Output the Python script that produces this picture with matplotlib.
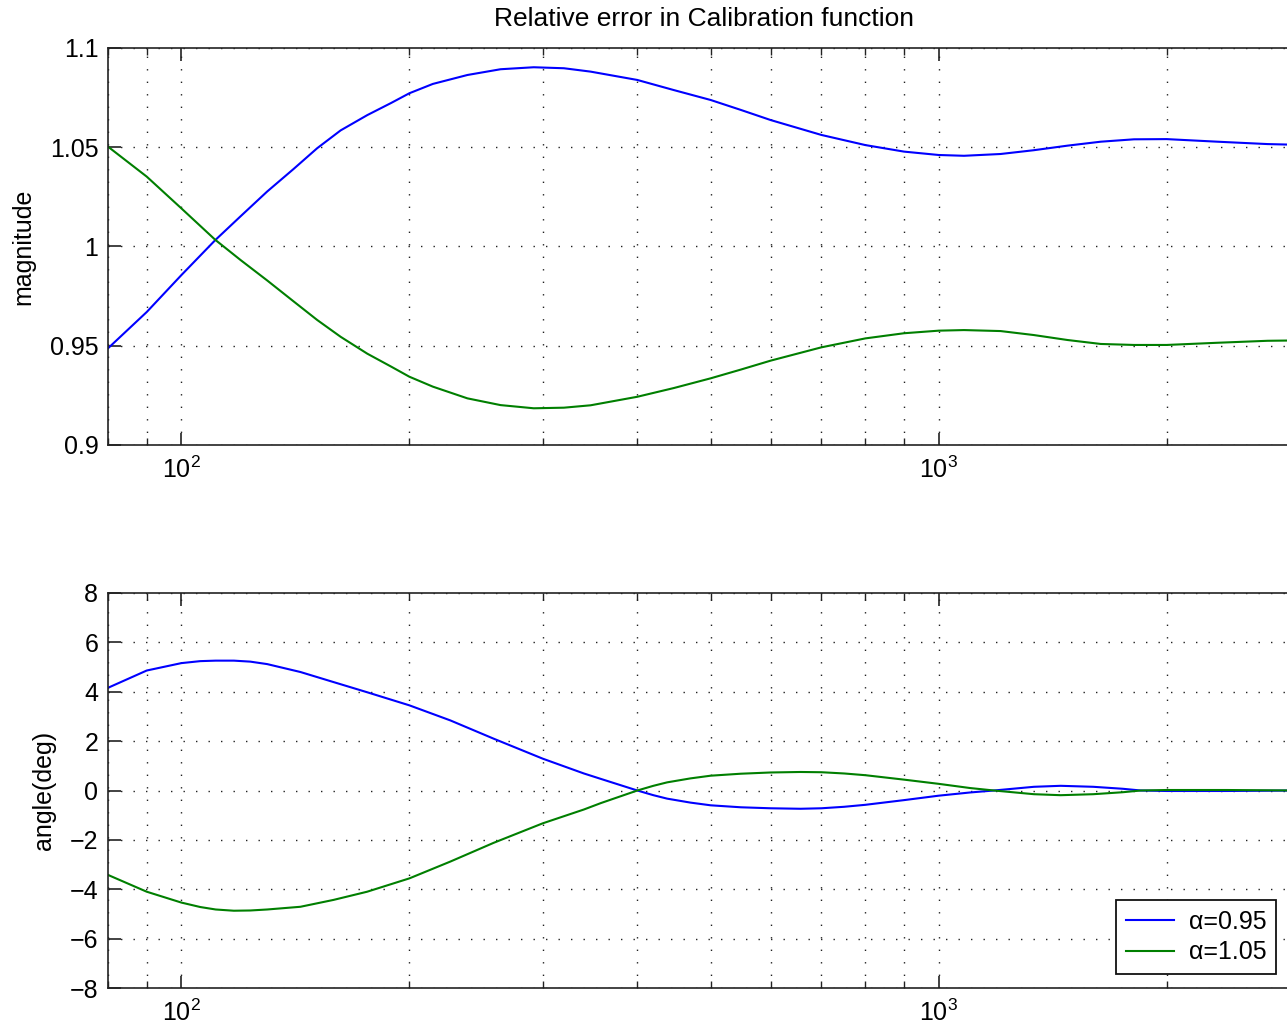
import matplotlib
matplotlib.use("Agg")
import matplotlib.pyplot as plt
from matplotlib import ticker

plt.rcParams['font.family'] = ['Liberation Sans', 'DejaVu Sans']
plt.rcParams['mathtext.fontset'] = 'custom'
plt.rcParams['mathtext.rm'] = 'Liberation Sans'

# ---- data ----
freq_mag = [80, 90, 100, 110.9, 119.7, 129.8, 140.6, 151.1, 162.3, 176, 189.2, 200,
            214.8, 238.6, 263.9, 291.9, 320, 347, 400, 447, 500, 548, 600, 700, 800,
            900, 1000, 1080, 1207, 1335, 1479, 1637, 1811, 2000, 2333, 2718, 3000]
mag_095 = [0.9487, 0.967, 0.9856, 1.0033, 1.0152, 1.0277, 1.0390, 1.0495, 1.0585,
           1.0662, 1.0723, 1.0772, 1.0819, 1.0864, 1.0893, 1.0903, 1.0898, 1.0881,
           1.0839, 1.0788, 1.0738, 1.0688, 1.0637, 1.0562, 1.0511, 1.0478, 1.0461,
           1.0457, 1.0466, 1.0485, 1.0508, 1.0528, 1.0540, 1.0541, 1.0528, 1.0516,
           1.0512]
mag_105 = [1.0503, 1.0352, 1.0192, 1.0033, 0.9932, 0.9829, 0.9724, 0.9630, 0.9545,
           0.9460, 0.9395, 0.9344, 0.9294, 0.9235, 0.9201, 0.9185, 0.9188, 0.9200,
           0.9243, 0.9287, 0.9336, 0.9380, 0.9425, 0.9492, 0.9537, 0.9563, 0.9576,
           0.9579, 0.9574, 0.9554, 0.9529, 0.9509, 0.9504, 0.9504, 0.9515, 0.9525,
           0.9527]

freq_ang = [80, 90, 100, 105.9, 111, 117.3, 123.3, 129.8, 143.6, 158.9, 175.9, 200,
            226.5, 258.4, 300, 340, 358, 400, 420, 438, 470, 500, 548, 600, 657, 700,
            750, 800, 900, 1000, 1100, 1183, 1336, 1449, 1600, 1750, 1849, 2000, 2400,
            3000]
ang_095 = [4.16, 4.86, 5.16, 5.24, 5.26, 5.26, 5.22, 5.12, 4.80, 4.39, 3.98, 3.45,
           2.84, 2.10, 1.29, 0.69, 0.47, 0.0, -0.19, -0.33, -0.49, -0.60, -0.68, -0.72,
           -0.74, -0.72, -0.66, -0.58, -0.39, -0.21, -0.08, 0.0, 0.15, 0.19, 0.15,
           0.07, 0.0, -0.02, -0.02, 0.0]
ang_105 = [-3.42, -4.10, -4.54, -4.72, -4.82, -4.87, -4.86, -4.82, -4.71, -4.43,
           -4.10, -3.56, -2.88, -2.12, -1.33, -0.77, -0.51, 0.0, 0.19, 0.33, 0.49,
           0.60, 0.68, 0.73, 0.75, 0.74, 0.69, 0.62, 0.44, 0.27, 0.10, 0.0, -0.15,
           -0.19, -0.15, -0.07, 0.0, 0.02, 0.02, 0.0]

labels = ['α=0.95', 'α=1.05']
colors = ['#0000ff', '#007f00']

mag_yticks = [0.9, 0.95, 1.0, 1.05, 1.1]
mag_yticklabels = ['0.9', '0.95', '1', '1.05', '1.1']
ang_yticks = [-8, -6, -4, -2, 0, 2, 4, 6, 8]
ang_yticklabels = ['\u22128', '\u22126', '\u22124', '\u22122', '0', '2', '4', '6', '8']

title = 'Relative error in Calibration function'

# ---- figure ----
W, H = 1287, 1032
fig = plt.figure(figsize=(W / 100, H / 100), dpi=100)
left = 108 / W
width = (1300 - 108) / W
ax1 = fig.add_axes([left, 1 - 445 / H, width, 397 / H])
ax2 = fig.add_axes([left, 1 - 988 / H, width, 395 / H])

FS = 18
grid_kw = dict(color='#222222', linestyle=(0, (1, 8)), linewidth=1.0)

def style(ax, yticks, yticklabels, ylim):
    ax.set_xscale('log')
    ax.set_xlim(80, 3000)
    ax.set_ylim(*ylim)
    ax.set_yticks(yticks)
    ax.set_yticklabels(yticklabels)
    ax.xaxis.set_major_locator(ticker.LogLocator(base=10, numticks=10))
    ax.xaxis.set_minor_locator(ticker.LogLocator(base=10, subs=range(2, 10), numticks=20))
    ax.xaxis.set_minor_formatter(ticker.NullFormatter())
    ax.tick_params(axis='both', which='major', direction='in', length=9, width=1.2,
                   top=True, right=True, labelsize=FS, pad=7, color='#222222')
    ax.tick_params(axis='both', which='minor', direction='in', length=5, width=1.0,
                   top=True, right=True, color='#222222')
    ax.tick_params(axis='x', which='major', pad=8)
    ax.grid(True, which='major', axis='both', **grid_kw)
    ax.grid(True, which='minor', axis='x', **grid_kw)
    for s in ax.spines.values():
        s.set_linewidth(1.2)
        s.set_color('#222222')

ax1.plot(freq_mag, mag_095, color=colors[0], lw=1.5)
ax1.plot(freq_mag, mag_105, color=colors[1], lw=1.5)
style(ax1, mag_yticks, mag_yticklabels, (0.9, 1.1))
ax1.set_ylabel('magnitude', fontsize=FS, labelpad=10)
ax1.set_title(title, fontsize=19, pad=16)

ax2.plot(freq_ang, ang_095, color=colors[0], lw=1.5, label=labels[0])
ax2.plot(freq_ang, ang_105, color=colors[1], lw=1.5, label=labels[1])
style(ax2, ang_yticks, ang_yticklabels, (-8, 8))
ax2.set_ylabel('angle(deg)', fontsize=FS, labelpad=10)

leg = ax2.legend(loc='lower right', fontsize=FS, fancybox=False, framealpha=1,
                 edgecolor='#111111', borderaxespad=0.55, handlelength=1.9,
                 borderpad=0.4, labelspacing=0.25, handletextpad=0.6,
                 bbox_to_anchor=(1 - 10 / 1192, 0), bbox_transform=ax2.transAxes)
leg.get_frame().set_linewidth(1.3)

fig.savefig('out.png', dpi=100)
